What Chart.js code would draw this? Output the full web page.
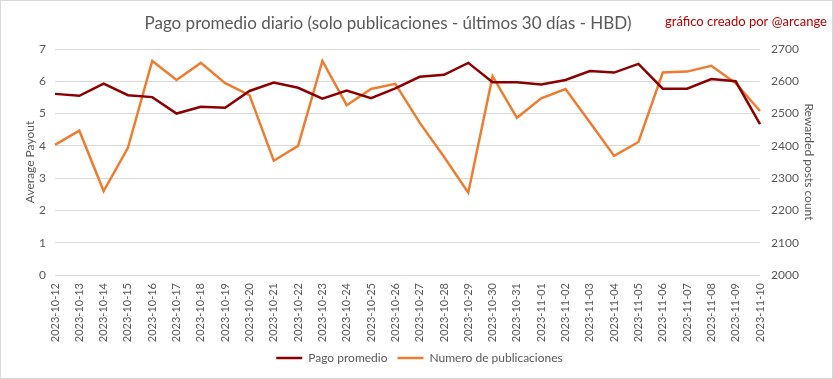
<!DOCTYPE html>
<html>
<head>
<meta charset="utf-8">
<script src="https://cdn.jsdelivr.net/npm/chart.js@4.4.0/dist/chart.umd.min.js"></script>
<style>
html,body{margin:0;padding:0;background:#fff;}
#wrap{width:833px;height:379px;position:relative;}
</style>
</head>
<body>
<div id="wrap"><canvas id="c" width="833" height="379"></canvas></div>
<script>
const categories = ["2023-10-12","2023-10-13","2023-10-14","2023-10-15","2023-10-16","2023-10-17","2023-10-18","2023-10-19","2023-10-20","2023-10-21","2023-10-22","2023-10-23","2023-10-24","2023-10-25","2023-10-26","2023-10-27","2023-10-28","2023-10-29","2023-10-30","2023-10-31","2023-11-01","2023-11-02","2023-11-03","2023-11-04","2023-11-05","2023-11-06","2023-11-07","2023-11-08","2023-11-09","2023-11-10"];
const pagoPromedio = [5.61,5.55,5.93,5.57,5.51,5.00,5.21,5.18,5.70,5.96,5.80,5.46,5.71,5.48,5.78,6.14,6.20,6.57,5.97,5.97,5.90,6.04,6.32,6.27,6.54,5.77,5.77,6.07,6.00,4.67];
const numeroPublicaciones = [2403,2447,2260,2394,2663,2604,2657,2594,2557,2354,2400,2663,2526,2576,2592,2472,2366,2255,2616,2487,2547,2576,2473,2369,2412,2627,2630,2648,2594,2508];
const titleText = "Pago promedio diario (solo publicaciones - últimos 30 días - HBD)";
const creditText = "gráfico creado por @arcange";
const leftAxisTitle = "Average Payout";
const rightAxisTitle = "Rewarded posts count";

const FONT = "Lato";
const GREY = "#595959";

const decor = {
  id: 'decor',
  afterDraw(chart) {
    const ctx = chart.ctx;
    ctx.save();
    ctx.strokeStyle = "#D9D9D9";
    ctx.lineWidth = 1;
    ctx.strokeRect(0.5, 0.5, chart.width - 1, chart.height - 1);
    ctx.fillStyle = GREY;
    ctx.textBaseline = "alphabetic";
    ctx.textAlign = "center";
    ctx.font = "17px " + FONT;
    ctx.fillText(titleText, 388, 29);
    ctx.fillStyle = "#C00000";
    ctx.font = "13px " + FONT;
    ctx.textAlign = "left";
    ctx.fillText(creditText, 665, 26);
    ctx.restore();
  }
};

new Chart(document.getElementById('c'), {
  type: 'line',
  data: {
    labels: categories,
    datasets: [
      {label: "Pago promedio", data: pagoPromedio, borderColor: "#8B0000", backgroundColor: "#8B0000", borderWidth: 2.5, pointRadius: 0, yAxisID: 'y', tension: 0},
      {label: "Numero de publicaciones", data: numeroPublicaciones, borderColor: "#ED7D31", backgroundColor: "#ED7D31", borderWidth: 2.5, pointRadius: 0, yAxisID: 'y1', tension: 0}
    ]
  },
  options: {
    responsive: false,
    animation: false,
    events: [],
    layout: {padding: {top: 49, left: 18, right: 12, bottom: 5}},
    plugins: {
      legend: {
        position: 'bottom',
        labels: {color: GREY, font: {family: FONT, size: 12}, usePointStyle: true, pointStyle: 'line', pointStyleWidth: 26, boxHeight: 12, padding: 10}
      },
      title: {display: false},
      tooltip: {enabled: false}
    },
    scales: {
      x: {
        grid: {display: false, drawTicks: false},
        border: {display: false},
        ticks: {color: GREY, font: {family: FONT, size: 11}, minRotation: 90, maxRotation: 90, autoSkip: false, padding: 8},
        afterFit(s) { s.height = 67; }
      },
      y: {
        position: 'left',
        min: 0, max: 7,
        ticks: {stepSize: 1, color: GREY, font: {family: FONT, size: 12}, padding: 9},
        grid: {color: "#D9D9D9", lineWidth: 1, drawTicks: false},
        border: {display: false},
        title: {display: true, text: leftAxisTitle, color: GREY, font: {family: FONT, size: 12}, padding: {top: 5, bottom: 0}},
        afterFit(s) { s.width = 37; }
      },
      y1: {
        position: 'right',
        min: 2000, max: 2700,
        ticks: {stepSize: 100, color: GREY, font: {family: FONT, size: 12}, padding: 11, callback: (v) => String(v)},
        grid: {display: false, drawTicks: false},
        border: {display: false},
        title: {display: true, text: rightAxisTitle, color: GREY, font: {family: FONT, size: 12}, padding: {top: 5, bottom: 0}},
        afterFit(s) { s.width = 61; }
      }
    }
  },
  plugins: [decor]
});
</script>
</body>
</html>
